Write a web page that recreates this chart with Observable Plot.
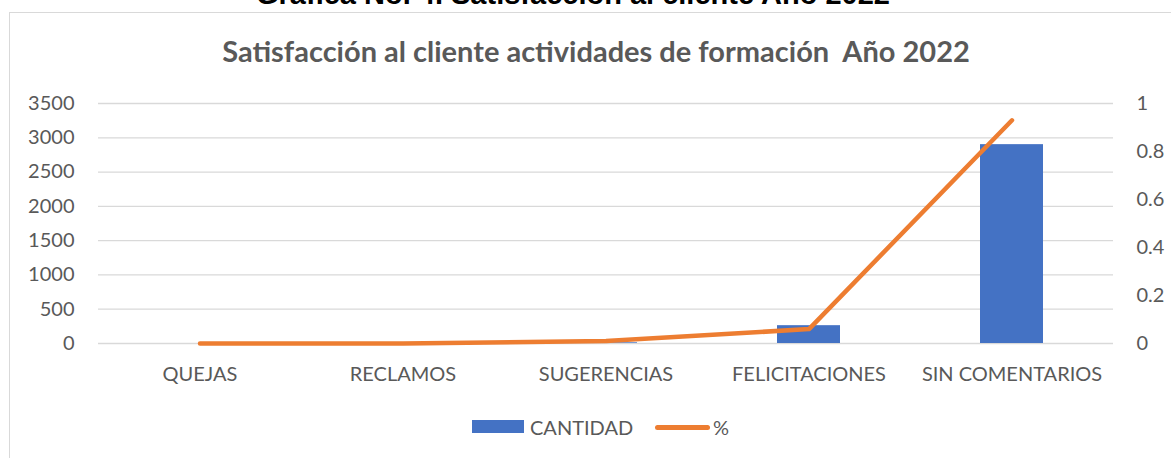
<!DOCTYPE html>
<html><head><meta charset="utf-8">
<script src="https://cdn.jsdelivr.net/npm/d3@7"></script>
<script src="https://cdn.jsdelivr.net/npm/@observablehq/plot@0.6"></script>
<style>
html,body{margin:0;padding:0;background:#fff;}
#wrap{position:relative;width:1171px;height:458px;overflow:hidden;font-family:Lato,sans-serif;}
#frame{position:absolute;left:9px;top:12px;width:1200px;height:500px;border:1px solid #d9d9d9;box-sizing:border-box;}
#header{position:absolute;left:0;width:1146px;top:-23px;text-align:center;font-family:"Liberation Sans",Arial,sans-serif;font-weight:bold;font-size:29px;line-height:34px;color:#000;white-space:nowrap;}
#title{position:absolute;left:0;width:1192px;top:33px;text-align:center;font-weight:bold;font-size:29px;line-height:35px;color:#595959;white-space:nowrap;}
#chart{position:absolute;left:0;top:0;}
.leg{position:absolute;font-size:20px;color:#595959;line-height:20px;}
</style></head>
<body><div id="wrap">
<div id="frame"></div>
<div id="header">Gráfica No. 4. Satisfacción al cliente Año 2022</div>
<div id="title">Satisfacción al cliente actividades de formación&nbsp; Año 2022</div>
<div id="chart"></div>
<div style="position:absolute;left:472px;top:420px;width:52px;height:13px;background:#4472C4"></div>
<div class="leg" style="left:530px;top:417px">CANTIDAD</div>
<div style="position:absolute;left:655px;top:424.5px;width:55px;height:5px;border-radius:3px;background:#ED7D31"></div>
<div class="leg" style="left:713px;top:417px">%</div>
</div>
<script>
const categories = ["QUEJAS","RECLAMOS","SUGERENCIAS","FELICITACIONES","SIN COMENTARIOS"];
const cantidad = [0, 0, 10, 260, 2900];
const porcentaje = [0, 0, 0.01, 0.06, 0.93];
const leftTicks = [0,500,1000,1500,2000,2500,3000,3500];
const rightTicks = [0,0.2,0.4,0.6,0.8,1];
const yMax = 3500;

const data = categories.map((c,i)=>({cat:c, cantidad:cantidad[i], pct:porcentaje[i]}));

const chart = Plot.plot({
  width:1171, height:458,
  marginLeft:98, marginRight:58, marginTop:103, marginBottom:115,
  style:{fontFamily:"Lato, sans-serif", fontSize:"20px", color:"#595959", background:"transparent"},
  x:{domain:categories, paddingInner:0.69, paddingOuter:0.345, label:null},
  y:{domain:[0,yMax], label:null},
  marks:[
    Plot.ruleY(leftTicks, {stroke:"#d9d9d9", strokeWidth:1.3}),
    Plot.barY(data, {x:"cat", y:"cantidad", fill:"#4472C4"}),
    Plot.line(data, {x:"cat", y:d=>d.pct*yMax, stroke:"#ED7D31", strokeWidth:4.5, strokeLinecap:"round", strokeLinejoin:"round"}),
    Plot.axisX({tickSize:0, tickPadding:23, fontSize:20, label:null}),
    Plot.axisY(leftTicks, {anchor:"left", tickSize:0, tickPadding:24, fontSize:20, label:null, tickFormat:d=>String(d)}),
    Plot.axisY(rightTicks.map(t=>t*yMax), {anchor:"right", tickSize:0, tickPadding:23, fontSize:20, label:null, textAnchor:"start", tickFormat:d=>String(+(d/yMax).toFixed(1))})
  ]
});
document.getElementById("chart").appendChild(chart);
</script>
</body></html>
